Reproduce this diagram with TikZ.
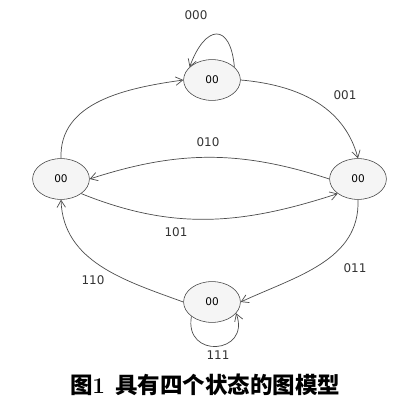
\documentclass[tikz,border=0pt]{standalone}
\usepackage{fontspec}
\usepackage{tikz}
\usetikzlibrary{arrows.meta,shapes.geometric}
\newfontfamily\cjk{Noto Sans CJK SC}
\newfontfamily\lblfont{DejaVu Sans}

\begin{document}
\begin{tikzpicture}[x=0.025cm,y=0.025cm,
  state/.style={ellipse,draw=black!75,fill=gray!8,minimum width=1.42cm,minimum height=1.02cm,inner sep=0pt,font=\lblfont\fontsize{7.5}{8}\selectfont},
  trans/.style={draw=black!70,line width=0.5pt,-{Straight Barb[length=5pt,width=6pt]}},
  lbl/.style={font=\lblfont\fontsize{8.5}{10}\selectfont,text=black!80,inner sep=1pt}]
  \useasboundingbox (0,0) rectangle (400,408);
  \node[state] (top) at (212,328) {00};
  \node[state] (left) at (61,229) {00};
  \node[state] (right) at (358,229) {00};
  \node[state] (bot) at (212,106) {00};
  % transitions
  \draw[trans] (left.north) to[out=92,in=188] (top.west);
  \draw[trans] (top.east) to[out=-5,in=105] (right.north);
  \draw[trans] (right.west) to[out=162,in=18] (left.east);
  \draw[trans] (left.south east) to[out=-22,in=198] (right.south west);
  \draw[trans] (right.south) to[out=-88,in=25] (bot.east);
  \draw[trans] (bot.west) to[out=160,in=-88] (left.south);
  % self loops
  \draw[trans] (top.30) to[out=95,in=70,looseness=2.6] (top.150);
  \draw[trans] (bot.-145) to[out=-100,in=-70,looseness=2.5] (bot.-25);
  % labels
  \node[lbl] (l000) at (196,393) {000};
  \node[lbl] (l001) at (345,313) {001};
  \node[lbl] (l010) at (208,266) {010};
  \node[lbl] (l101) at (176,176) {101};
  \node[lbl] (l011) at (355,140) {011};
  \node[lbl] (l110) at (93,128) {110};
  \node[lbl] (l111) at (218,53) {111};
  \node (cap) at (205,23) {{\cjk\bfseries\fontsize{16}{18}\selectfont 图}{\fontsize{16}{18}\selectfont\textbf{1}}\hspace{0.7em}{\cjk\bfseries\fontsize{16}{18}\selectfont 具有四个状态的图模型}};
\end{tikzpicture}
\end{document}
